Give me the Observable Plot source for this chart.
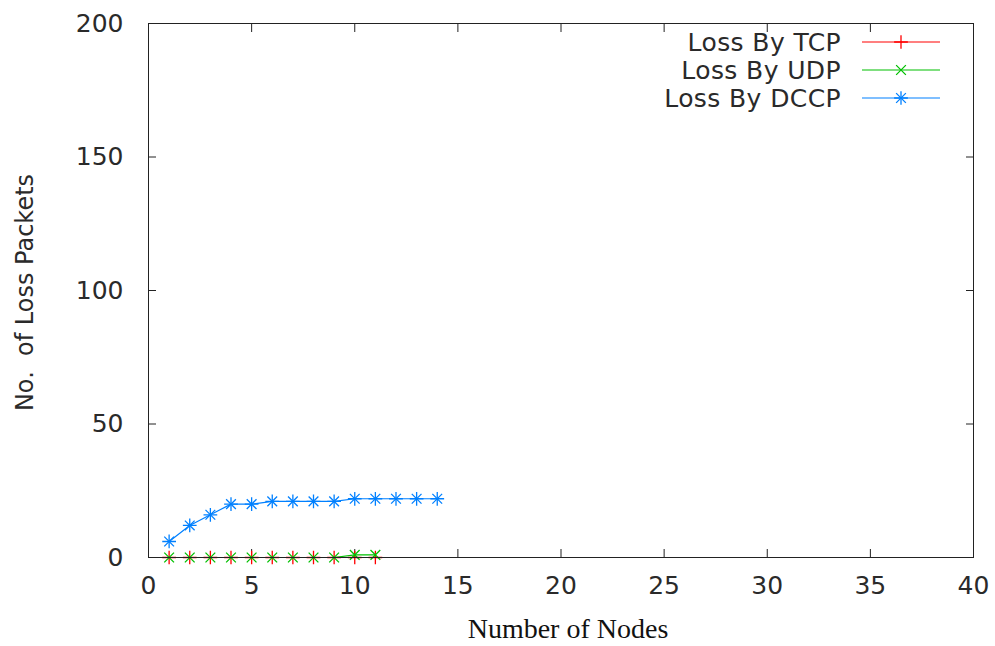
<!DOCTYPE html>
<html><head>
<meta charset="utf-8">
<script src="https://cdn.jsdelivr.net/npm/d3@7"></script>
<script src="https://cdn.jsdelivr.net/npm/@observablehq/plot@0.6"></script>
<style>body{margin:0;background:#fff}</style>
</head><body><div id="chart"></div>
<script>
const tcpNodes = [1,2,3,4,5,6,7,8,9,10,11];
const tcpLoss  = [0,0,0,0,0,0,0,0,0,0,0];
const udpNodes = [1,2,3,4,5,6,7,8,9,10,11];
const udpLoss  = [0,0,0,0,0,0,0,0,0,1,1];
const dccpNodes = [1,2,3,4,5,6,7,8,9,10,11,12,13,14];
const dccpLoss  = [6,12,16,20,20,21,21,21,21,22,22,22,22,22];
const xTicks = [0,5,10,15,20,25,30,35,40];
const yTicks = [0,50,100,150,200];
const seriesNames = ["Loss By TCP","Loss By UDP","Loss By DCCP"];
const seriesColors = ["#ff0000","#00c000","#0080ff"];

const tcp = tcpNodes.map((x,i)=>({x, y: tcpLoss[i]}));
const udp = udpNodes.map((x,i)=>({x, y: udpLoss[i]}));
const dccp = dccpNodes.map((x,i)=>({x, y: dccpLoss[i]}));

const blank = () => "";
const plot = Plot.plot({
  width: 995, height: 646,
  marginLeft: 148, marginRight: 22, marginTop: 23, marginBottom: 89,
  style: {fontFamily: "DejaVu Sans", fontSize: "25px", background: "white", color: "#2a2a2a"},
  x: {domain: [0, 40]},
  y: {domain: [0, 200]},
  marks: [
    Plot.axisX({ticks: xTicks, tickSize: -8, tickFormat: blank, label: null, stroke: "#222"}),
    Plot.axisX({ticks: xTicks, anchor: "top", tickSize: -8, tickFormat: blank, label: null, stroke: "#222"}),
    Plot.axisX({ticks: xTicks, tickSize: 0, tickPadding: 18.5, label: null}),
    Plot.axisY({ticks: yTicks, tickSize: -8, tickFormat: blank, label: null, stroke: "#222"}),
    Plot.axisY({ticks: yTicks, anchor: "right", tickSize: -8, tickFormat: blank, label: null, stroke: "#222"}),
    Plot.axisY({ticks: yTicks, tickSize: 0, tickPadding: 25, label: null}),
    Plot.line(tcp, {x: "x", y: "y", stroke: seriesColors[0], strokeWidth: 1.2}),
    Plot.dot(tcp, {x: "x", y: "y", symbol: "plus", stroke: seriesColors[0], r: 4.5, strokeWidth: 1.3}),
    Plot.line(udp, {x: "x", y: "y", stroke: seriesColors[1], strokeWidth: 1.2}),
    Plot.dot(udp, {x: "x", y: "y", symbol: "times", stroke: seriesColors[1], r: 4.5, strokeWidth: 1.3}),
    Plot.line(dccp, {x: "x", y: "y", stroke: seriesColors[2], strokeWidth: 1.2}),
    Plot.dot(dccp, {x: "x", y: "y", symbol: "plus", stroke: seriesColors[2], r: 4.5, strokeWidth: 1.3}),
    Plot.dot(dccp, {x: "x", y: "y", symbol: "times", stroke: seriesColors[2], r: 4.5, strokeWidth: 1.3}),
    Plot.frame({stroke: "#222"})
  ]
});
document.getElementById("chart").appendChild(plot);

const svg = d3.select(plot);
svg.append("text").attr("x", 568).attr("y", 638).attr("text-anchor", "middle")
  .attr("font-family", "Liberation Serif").attr("font-size", 28).attr("fill", "#111")
  .text("Number of Nodes");
svg.append("text").attr("transform", "translate(33,292.5) rotate(-90)").attr("text-anchor", "middle")
  .attr("font-family", "DejaVu Sans").attr("font-size", 24).attr("fill", "#2a2a2a")
  .text("No.\u00a0 of Loss Packets");

const symbols = [["plus"],["times"],["plus","times"]];
const symMap = {plus: d3.symbolPlus, times: d3.symbolTimes};
seriesNames.forEach((name, i) => {
  const y = 42 + i * 28;
  const g = svg.append("g");
  g.append("text").attr("x", 841).attr("y", y).attr("dy", "0.35em").attr("text-anchor", "end")
    .attr("font-family", "DejaVu Sans").attr("font-size", 25).attr("letter-spacing", 0.4)
    .attr("fill", "#2a2a2a").text(name);
  g.append("line").attr("x1", 862).attr("x2", 940).attr("y1", y).attr("y2", y)
    .attr("stroke", seriesColors[i]).attr("stroke-width", 1.2);
  symbols[i].forEach(s => {
    g.append("path").attr("d", d3.symbol(symMap[s], Math.PI * 4.5 * 4.5)())
      .attr("transform", `translate(901,${y})`).attr("fill", "none")
      .attr("stroke", seriesColors[i]).attr("stroke-width", 1.3);
  });
});
</script>
</body></html>
